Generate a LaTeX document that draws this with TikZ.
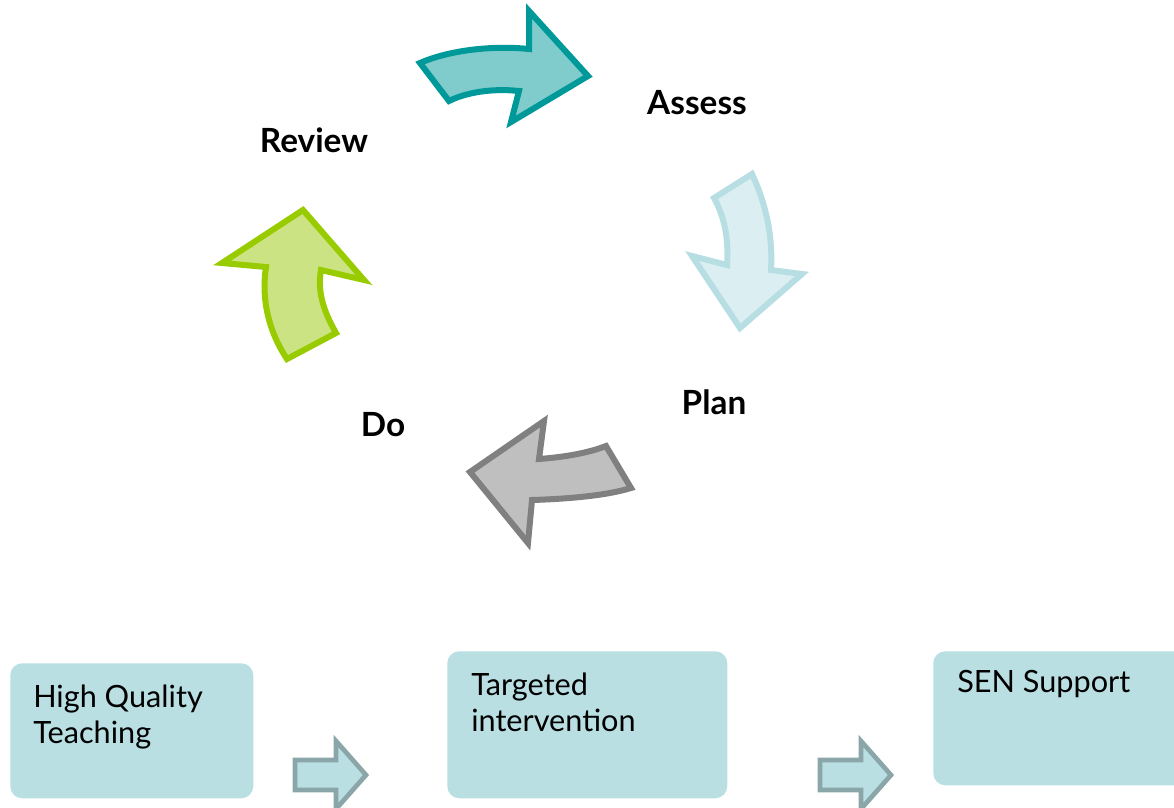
\documentclass[tikz,border=0pt]{standalone}
\usepackage{fontspec}
\setmainfont{Lato}
\usepackage{xcolor}
\usetikzlibrary{positioning}

\definecolor{tealline}{HTML}{009999}
\definecolor{tealfill}{HTML}{80CCCC}
\definecolor{iceline}{HTML}{B7DEE2}
\definecolor{icefill}{HTML}{DBEEF1}
\definecolor{greyline}{HTML}{808080}
\definecolor{greyfill}{HTML}{BFBFBF}
\definecolor{limeline}{HTML}{99CC00}
\definecolor{limefill}{HTML}{CCE384}
\definecolor{stagefill}{HTML}{B9DFE3}
\definecolor{stepline}{HTML}{8AA6A8}

\begin{document}
\begin{tikzpicture}[
			x=0.75pt, y=-0.75pt,
			phase/.style={font=\fontsize{25}{28}\selectfont\bfseries, anchor=base, inner sep=0pt},
			stage/.style={rectangle, rounded corners=9pt, fill=stagefill, anchor=north west},
			stagetext/.style={font=\fontsize{23}{27}\selectfont, align=left, anchor=north west, inner sep=0pt},
			cyclearrow/.style={line width=4.5pt, line join=miter},
			smallarrow/.style={draw=stepline, fill=stagefill, line width=3.5pt},
			flowarrow/.pic={\draw[smallarrow] (0,0) -- (41,0) -- (41,-19) -- (71,15) -- (41,49) -- (41,30) -- (0,30) -- cycle;}
			]
			\clip (0,0) rectangle (1174,807);
			
			% cycle arrows
			\draw[cyclearrow, draw=tealline, fill=tealfill] (420,63) .. controls (447,51) and (490,45) .. (529,49) -- (529,11) -- (588,76) -- (511,122) -- (519,91) .. controls (490,88) and (465,93) .. (449,101) -- cycle;
			\draw[cyclearrow, draw=iceline, fill=icefill] (714,198) -- (752,174) .. controls (766,204) and (773,236) .. (771,270) -- (802,274) -- (740,328) -- (692,256) -- (727,265) .. controls (729,238) and (724,216) .. (714,198) -- cycle;
			\draw[cyclearrow, draw=greyline, fill=greyfill] (606,446) -- (631,488) .. controls (605,496) and (565,499) .. (532,500) -- (528,543) -- (470,472) -- (544,421) -- (539,459) .. controls (565,457) and (588,453) .. (606,446) -- cycle;
			\draw[cyclearrow, draw=limeline, fill=limefill] (287,359) -- (336,333) .. controls (324,312) and (317,292) .. (321,270) -- (364,280) -- (303,210) -- (222,263) -- (266,267) .. controls (261,300) and (269,332) .. (287,359) -- cycle;
			
			% cycle labels
			\node[phase] (assess) at (697,114) {Assess};
			\node[phase] (plan) at (714,414) {Plan};
			\node[phase] (do) at (383,436) {Do};
			\node[phase] (review) at (314,152) {Review};
			
			% stages
			\node[stage, minimum width=182.25pt, minimum height=101.25pt] (hqt) at (10,663) {};
			\node[stage, minimum width=210pt, minimum height=110.25pt] (ti) at (447,651) {};
			\node[stage, minimum width=192.75pt, minimum height=100.5pt] (sen) at (933,651) {};
			\node[stagetext] (hqtlabel) at ([shift={(23,22)}]hqt.north west) {High Quality\\Teaching};
			\node[stagetext] (tilabel) at ([shift={(24,22)}]ti.north west) {Targeted\\intervention};
			\node[stagetext] (senlabel) at ([shift={(24,19)}]sen.north west) {SEN Support};
			
			% steps between stages
			\pic at (295,760) {flowarrow};
			\pic at (820,760) {flowarrow};
			
		\end{tikzpicture}
\end{document}
